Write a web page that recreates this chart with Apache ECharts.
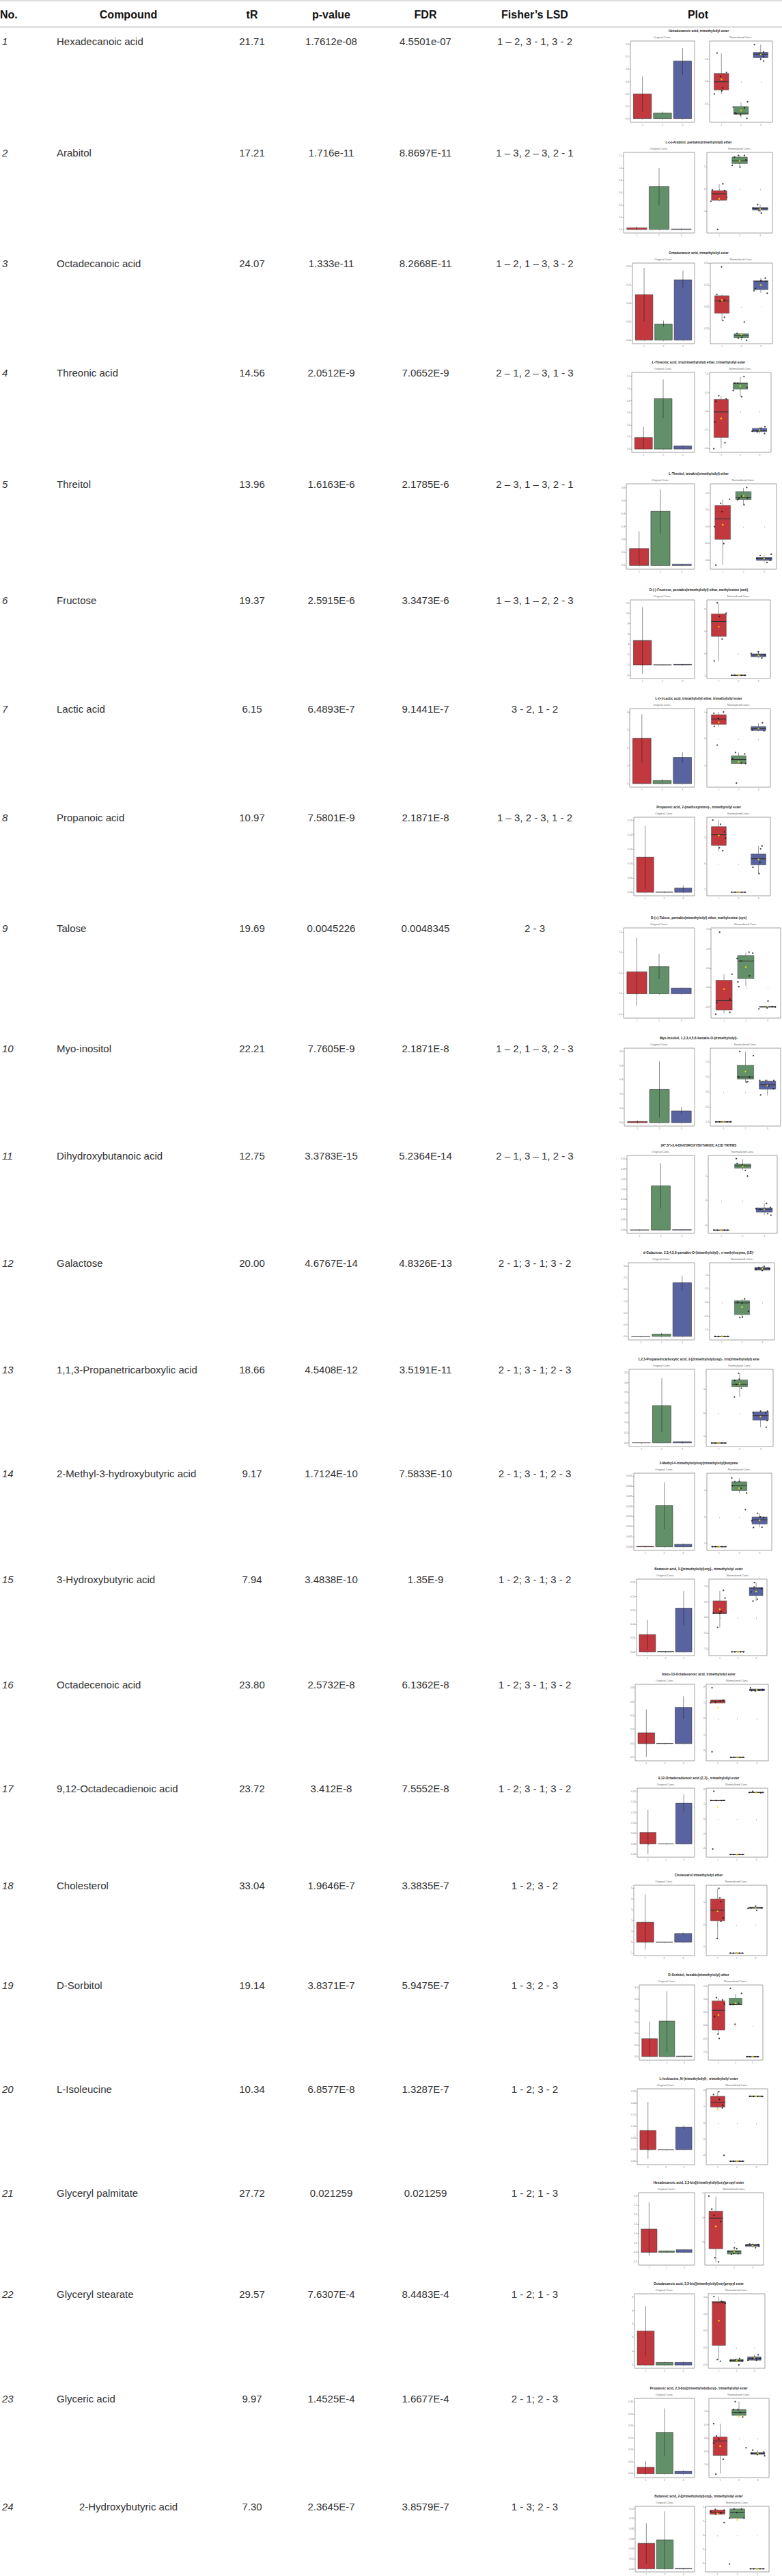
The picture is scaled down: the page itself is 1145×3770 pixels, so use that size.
<!DOCTYPE html>
<html>
<head>
<meta charset="utf-8">
<script src="https://cdn.jsdelivr.net/npm/echarts@6.0.0/dist/echarts.min.js"></script>
<style>
  html, body { margin: 0; padding: 0; background: #fff; }
  #chart { width: 1145px; height: 3770px; }
</style>
</head>
<body>
<div id="chart"></div>
<script>
// ---- table values ----
const compounds = ['Hexadecanoic acid', 'Arabitol', 'Octadecanoic acid', 'Threonic acid', 'Threitol', 'Fructose',
  'Lactic acid', 'Propanoic acid', 'Talose', 'Myo-inositol', 'Dihydroxybutanoic acid', 'Galactose',
  '1,1,3-Propanetricarboxylic acid', '2-Methyl-3-hydroxybutyric acid', '3-Hydroxybutyric acid', 'Octadecenoic acid',
  '9,12-Octadecadienoic acid', 'Cholesterol', 'D-Sorbitol', 'L-Isoleucine', 'Glyceryl palmitate', 'Glyceryl stearate',
  'Glyceric acid', '2-Hydroxybutyric acid'];
const retention = ['21.71', '17.21', '24.07', '14.56', '13.96', '19.37', '6.15', '10.97', '19.69', '22.21', '12.75', '20.00',
  '18.66', '9.17', '7.94', '23.80', '23.72', '33.04', '19.14', '10.34', '27.72', '29.57', '9.97', '7.30'];
const pValues = ['1.7612e-08', '1.716e-11', '1.333e-11', '2.0512E-9', '1.6163E-6', '2.5915E-6', '6.4893E-7', '7.5801E-9',
  '0.0045226', '7.7605E-9', '3.3783E-15', '4.6767E-14', '4.5408E-12', '1.7124E-10', '3.4838E-10', '2.5732E-8',
  '3.412E-8', '1.9646E-7', '3.8371E-7', '6.8577E-8', '0.021259', '7.6307E-4', '1.4525E-4', '2.3645E-7'];
const fdrValues = ['4.5501e-07', '8.8697E-11', '8.2668E-11', '7.0652E-9', '2.1785E-6', '3.3473E-6', '9.1441E-7', '2.1871E-8',
  '0.0048345', '2.1871E-8', '5.2364E-14', '4.8326E-13', '3.5191E-11', '7.5833E-10', '1.35E-9', '6.1362E-8',
  '7.5552E-8', '3.3835E-7', '5.9475E-7', '1.3287E-7', '0.021259', '8.4483E-4', '1.6677E-4', '3.8579E-7'];
const fisherLSD = ['1 \u2013 2, 3 - 1, 3 - 2', '1 \u2013 3, 2 \u2013 3, 2 - 1', '1 \u2013 2, 1 \u2013 3, 3 - 2',
  '2 \u2013 1, 2 \u2013 3, 1 - 3', '2 \u2013 3, 1 \u2013 3, 2 - 1', '1 \u2013 3, 1 \u2013 2, 2 - 3', '3 - 2, 1 - 2',
  '1 \u2013 3, 2 - 3, 1 - 2', '2 - 3', '1 \u2013 2, 1 \u2013 3, 2 - 3', '2 \u2013 1, 3 \u2013 1, 2 - 3',
  '2 - 1; 3 - 1; 3 - 2', '2 - 1; 3 - 1; 2 - 3', '2 - 1; 3 - 1; 2 - 3', '1 - 2; 3 - 1; 3 - 2', '1 - 2; 3 - 1; 3 - 2',
  '1 - 2; 3 - 1; 3 - 2', '1 - 2; 3 - 2', '1 - 3; 2 - 3', '1 - 2; 3 - 2', '1 - 2; 1 - 3', '1 - 2; 1 - 3',
  '2 - 1; 2 - 3', '1 - 3; 2 - 3'];
const plotTitles = ['Hexadecanoic acid, trimethylsilyl ester', 'L-(-)-Arabitol, pentakis(trimethylsilyl) ether',
  'Octadecanoic acid, trimethylsilyl ester', 'L-Threonic acid, tris(trimethylsilyl) ether, trimethylsilyl ester',
  'L-Threitol, tetrakis(trimethylsilyl) ether', 'D-(-)-Fructose, pentakis(trimethylsilyl) ether, methyloxime (anti)',
  'L-(+)-Lactic acid, trimethylsilyl ether, trimethylsilyl ester', 'Propanoic acid, 2-(methoxyimino)-, trimethylsilyl ester',
  'D-(+)-Talose, pentakis(trimethylsilyl) ether, methyloxime (syn)', 'Myo-Inositol, 1,2,3,4,5,6-hexakis-O-(trimethylsilyl)-',
  '(R*,S*)-3,4-DIHYDROXYBUTANOIC ACID TRITMS', 'd-Galactose, 2,3,4,5,6-pentakis-O-(trimethylsilyl)-, o-methyloxyme, (1E)-',
  '1,2,3-Propanetricarboxylic acid, 2-[(trimethylsilyl)oxy]-, tris(trimethylsilyl) este',
  '2-Methyl-4-trimethylsilyloxy(trimethylsilyl)butyrate', 'Butanoic acid, 3-[(trimethylsilyl)oxy]-, trimethylsilyl ester',
  'trans-13-Octadecenoic acid, trimethylsilyl ester', '9,12-Octadecadienoic acid (Z,Z)-, trimethylsilyl ester',
  'Cholesterol trimethylsilyl ether', 'D-Sorbitol, hexakis(trimethylsilyl) ether',
  'L-Isoleucine, N-(trimethylsilyl)-, trimethylsilyl ester', 'Hexadecanoic acid, 2,3-bis[(trimethylsilyl)oxy]propyl ester',
  'Octadecanoic acid, 2,3-bis[(trimethylsilyl)oxy]propyl ester',
  'Propanoic acid, 2,3-bis[(trimethylsilyl)oxy]-, trimethylsilyl ester',
  'Butanoic acid, 2-[(trimethylsilyl)oxy]-, trimethylsilyl ester'];

// ---- plot values: groups 1, 2, 3 ----
const groups = ['1', '2', '3'];
const groupColors = ['#C1383E', '#629068', '#5963A0'];

// Original Conc. (bar = mean, error bar low / high)
const barMeans = [[0.20, 0.046, 0.468], [0.027, 0.70, 0.008], [0.124, 0.044, 0.164], [0.19, 0.834, 0.05],
  [0.13, 0.417, 0.009], [4.73, 0.02, 0.09], [2.54, 0.17, 1.46], [0.1225, 0.0016, 0.0147], [0.535, 0.66, 0.137],
  [0.008, 0.233, 0.082], [0.001, 0.217, 0.002], [0.01, 0.10, 2.30], [0.01, 1.86, 0.06], [0.0002, 0.0204, 0.0012],
  [0.063, 0.003, 0.158], [0.155, 0.003, 0.52], [0.055, 0.0005, 0.194], [1.84, 0.0, 0.79], [0.78, 1.55, 0.02],
  [0.083, 0.0, 0.097], [1.24, 0.075, 0.137], [2.5, 0.19, 0.19], [0.027, 0.173, 0.011], [0.051, 0.058, 0.001]];
const barLow = [[0.056, 0.036, 0.354], [0.005, 0.394, 0.002], [0.051, 0.037, 0.141], [0.023, 0.51, 0.04],
  [0.007, 0.248, 0.005], [-1.73, 0.0, 0.05], [1.19, 0.09, 1.15], [0.012, 0.0, 0.004], [-0.296, 0.353, 0.13],
  [0.0, 0.036, 0.062], [0.0, 0.106, 0.001], [0.0, 0.05, 1.97], [0.0, 0.53, 0.04], [0.0, 0.0087, 0.0008],
  [0.008, 0.002, 0.095], [-0.19, 0.0, 0.35], [-0.047, 0.0, 0.15], [-0.70, 0.0, 0.68], [0.04, 0.22, 0.01],
  [-0.04, 0.0, 0.087], [-0.19, 0.05, 0.11], [0.71, 0.15, 0.15], [0.0, 0.076, 0.008], [0.0105, 0.0, 0.0005]];
const barHigh = [[0.343, 0.056, 0.574], [0.05, 1.0, 0.014], [0.197, 0.053, 0.19], [0.366, 1.153, 0.06],
  [0.263, 0.585, 0.013], [11.2, 0.04, 0.13], [3.88, 0.25, 1.76], [0.231, 0.003, 0.0245], [1.367, 0.97, 0.145],
  [0.016, 0.43, 0.11], [0.002, 0.328, 0.003], [0.02, 0.15, 2.6], [0.02, 3.22, 0.08], [0.0004, 0.032, 0.0016],
  [0.116, 0.004, 0.22], [0.49, 0.006, 0.68], [0.162, 0.001, 0.236], [4.43, 0.0, 0.88], [1.53, 2.85, 0.03],
  [0.206, 0.0, 0.105], [2.66, 0.10, 0.16], [4.32, 0.23, 0.23], [0.053, 0.273, 0.014], [0.091, 0.115, 0.0015]];
const barTicks = [
  ['0.0', '0.1', '0.2', '0.3', '0.4', '0.5', '0.6'], ['0.0', '0.2', '0.4', '0.6', '0.8', '1.0', '1.2'],
  ['0.00', '0.05', '0.10', '0.15', '0.20'], ['0.0', '0.2', '0.4', '0.6', '0.8', '1.0', '1.2'],
  ['0.0', '0.1', '0.2', '0.3', '0.4', '0.5', '0.6'], ['-2', '0', '2', '4', '6', '8', '10', '12'],
  ['0', '1', '2', '3', '4'], ['0.00', '0.05', '0.10', '0.15', '0.20', '0.25'],
  ['-0.5', '0.0', '0.5', '1.0', '1.5'], ['0.0', '0.1', '0.2', '0.3', '0.4', '0.5'],
  ['0.00', '0.05', '0.10', '0.15', '0.20', '0.25', '0.30', '0.35'], ['0.0', '0.5', '1.0', '1.5', '2.0', '2.5', '3.0'],
  ['0.0', '0.5', '1.0', '1.5', '2.0', '2.5', '3.0', '3.5'],
  ['0.000', '0.005', '0.010', '0.015', '0.020', '0.025', '0.030', '0.035'],
  ['0.00', '0.05', '0.10', '0.15', '0.20', '0.25'], ['-0.2', '0.0', '0.2', '0.4', '0.6', '0.8'],
  ['-0.05', '0.00', '0.05', '0.10', '0.15', '0.20', '0.25'], ['-1', '0', '1', '2', '3', '4', '5'],
  ['0.0', '0.5', '1.0', '1.5', '2.0', '2.5', '3.0'], ['-0.05', '0.00', '0.05', '0.10', '0.15', '0.20', '0.25'],
  ['-0.5', '0.0', '0.5', '1.0', '1.5', '2.0', '2.5', '3.0'], ['0', '1', '2', '3', '4', '5'],
  ['0.00', '0.05', '0.10', '0.15', '0.20', '0.25', '0.30'], ['0.00', '0.02', '0.04', '0.06', '0.08', '0.10', '0.12']];
const barLimits = [[-0.03, 0.63], [-0.057, 1.254], [-0.0096, 0.21], [-0.055, 1.27], [-0.029, 0.629], [-2.64, 12.6],
  [-0.2, 4.2], [-0.012, 0.261], [-0.59, 1.60], [-0.024, 0.523], [-0.016, 0.366], [-0.15, 3.15], [-0.18, 3.67],
  [-0.0018, 0.0365], [-0.013, 0.263], [-0.247, 0.85], [-0.063, 0.266], [-1.25, 5.28], [-0.155, 3.13],
  [-0.065, 0.263], [-0.68, 3.17], [-0.24, 5.23], [-0.016, 0.315], [-0.006, 0.125]];

// Normalized Conc. (box = low whisker, q1, median, q3, high whisker)
const boxStats = [
  [[-0.223, -0.152, -0.004, 0.143, 0.505], [-0.644, -0.585, -0.564, -0.446, -0.37], [0.375, 0.425, 0.488, 0.522, 0.66]],
  [[-0.55, -0.505, -0.22, -0.074, 0.23], [0.98, 1.14, 1.26, 1.43, 1.5], [-1.07, -0.94, -0.88, -0.83, -0.7]],
  [[-0.154, -0.073, 0.068, 0.127, 0.143], [-0.384, -0.357, -0.33, -0.31, -0.30], [0.157, 0.198, 0.289, 0.30, 0.33]],
  [[-1.0, -0.709, -0.019, 0.316, 0.40], [0.39, 0.595, 0.75, 0.76, 0.93], [-0.6, -0.55, -0.525, -0.462, -0.424]],
  [[-1.14, -0.38, 0.232, 0.634, 0.81], [0.66, 0.803, 0.866, 1.042, 1.16], [-1.056, -1.007, -0.95, -0.915, -0.845]],
  [[-0.33, 0.78, 1.45, 1.79, 2.26], [-0.975, -0.975, -0.975, -0.975, -0.975], [-0.2, -0.14, -0.06, -0.01, 0.1]],
  [[0.46, 0.54, 0.74, 0.9, 1.0], [-0.92, -0.92, -0.77, -0.63, -0.51], [0.28, 0.31, 0.38, 0.46, 0.59]],
  [[0.5, 0.70, 1.11, 1.42, 1.67], [-1.09, -1.09, -1.09, -1.09, -1.09], [-0.38, -0.045, 0.19, 0.37, 0.68]],
  [[-0.67, -0.58, -0.34, 0.188, 0.34], [0.036, 0.23, 0.685, 0.824, 0.9], [-0.53, -0.51, -0.495, -0.49, -0.48]],
  [[-1.0, -1.0, -1.0, -1.0, -1.0], [0.31, 0.43, 0.5, 0.886, 1.34], [-0.12, 0.09, 0.235, 0.36, 0.41]],
  [[-1.2, -1.2, -1.2, -1.2, -1.2], [1.23, 1.32, 1.42, 1.49, 1.69], [-0.58, -0.47, -0.35, -0.30, -0.11]],
  [[-1.23, -1.23, -1.23, -1.23, -1.23], [-0.55, -0.44, -0.017, 0.06, 0.127], [1.14, 1.17, 1.22, 1.27, 1.31]],
  [[-1.27, -1.27, -1.27, -1.27, -1.27], [0.68, 1.11, 1.21, 1.40, 1.68], [-0.60, -0.30, -0.11, 0.05, 0.08]],
  [[-1.13, -1.13, -1.13, -1.13, -1.13], [0.91, 1.0, 1.18, 1.33, 1.47], [-0.4, -0.27, -0.11, 0.0, 0.14]],
  [[-0.31, 0.135, 0.14, 0.534, 0.86], [-1.09, -1.09, -1.09, -1.09, -1.09], [0.534, 0.70, 0.925, 0.96, 1.12]],
  [[0.985, 0.985, 1.095, 1.17, 1.17], [-2.41, -2.41, -2.41, -2.41, -2.41], [1.73, 1.74, 1.8, 1.85, 1.85]],
  [[1.2, 1.22, 1.24, 1.26, 1.28], [-2.4, -2.4, -2.4, -2.4, -2.4], [1.76, 1.77, 1.78, 1.79, 1.8]],
  [[-0.63, 0.18, 0.66, 1.16, 1.62], [-1.28, -1.28, -1.28, -1.28, -1.28], [0.70, 0.734, 0.755, 0.787, 0.84]],
  [[-0.32, -0.17, 0.577, 0.937, 1.045], [0.8, 0.8, 0.8, 1.036, 1.2], [-1.18, -1.18, -1.18, -1.18, -1.18]],
  [[0.9, 0.97, 1.26, 1.64, 1.92], [-2.36, -2.36, -2.36, -2.36, -2.36], [1.64, 1.64, 1.64, 1.64, 1.64]],
  [[-0.83, -0.27, 0.98, 1.26, 1.86], [-0.49, -0.49, -0.39, -0.35, -0.23], [-0.23, -0.17, -0.125, -0.087, -0.06]],
  [[-0.37, 0.07, 1.34, 1.37, 1.52], [-0.415, -0.415, -0.38, -0.345, -0.32], [-0.37, -0.37, -0.32, -0.27, -0.21]],
  [[-1.32, -0.65, -0.106, 0.044, 0.54], [0.79, 0.85, 0.96, 1.07, 1.37], [-0.66, -0.61, -0.57, -0.54, -0.45]],
  [[1.51, 1.51, 1.66, 1.81, 1.86], [1.23, 1.23, 1.63, 1.89, 1.89], [-2.41, -2.41, -2.41, -2.41, -2.41]]];
const boxMeans = [[0.038, -0.518, 0.484], [-0.44, 1.26, -0.89], [0.076, -0.316, 0.25], [-0.196, 0.68, -0.513],
  [0.056, 0.915, -0.95], [1.21, -0.975, -0.085], [0.615, -0.86, 0.39], [1.08, -1.09, 0.16], [-0.04, 0.527, -0.49],
  [-1.0, 0.68, 0.21], [-1.2, 1.40, -0.36], [-1.23, -0.17, 1.22], [-1.27, 1.23, -0.15], [-1.13, 1.085, -0.13],
  [0.27, -1.09, 0.835], [0.7, -2.41, 1.8], [0.81, -2.4, 1.78], [0.61, -1.28, 0.755], [0.4, 0.85, -1.18],
  [0.83, -2.36, 1.64], [0.64, -0.39, -0.135], [0.8, -0.38, -0.3], [-0.3, 0.82, -0.57], [1.56, 1.11, -2.41]];
const boxTicks = [['-0.4', '0.0', '0.4'], ['-1', '0', '1'], ['-0.25', '0.00', '0.25', '0.50'],
  ['-1.0', '-0.5', '0.0', '0.5', '1.0'], ['-1.0', '-0.5', '0.0', '0.5', '1.0'], ['-1', '0', '1', '2'], ['-1', '0', '1'],
  ['-1', '0', '1'], ['-0.5', '0.0', '0.5', '1.0', '1.5'], ['-1.0', '-0.5', '0.0', '0.5', '1.0'], ['-1', '0', '1'],
  ['-1.0', '-0.5', '0.0', '0.5', '1.0'], ['-1', '0', '1'], ['-1', '0', '1'], ['-1.0', '-0.5', '0.0', '0.5', '1.0'],
  ['-2', '-1', '0', '1', '2'], ['-2', '-1', '0', '1', '2'], ['-1', '0', '1'], ['-1.0', '-0.5', '0.0', '0.5', '1.0', '1.5'],
  ['-2', '-1', '0', '1', '2'], ['0', '1', '2'], ['-0.5', '0.0', '0.5', '1.0', '1.5'],
  ['-1.0', '-0.5', '0.0', '0.5', '1.0'], ['-2', '-1', '0', '1', '2']];
const boxLimits = [[-0.728, 0.724], [-1.97, 1.64], [-0.424, 0.503], [-1.107, 1.044], [-1.27, 1.28], [-1.12, 2.42],
  [-1.8, 1.13], [-1.23, 1.78], [-0.79, 1.54], [-1.14, 1.46], [-1.33, 1.84], [-1.36, 1.44], [-1.42, 1.85], [-1.27, 1.66],
  [-1.21, 1.23], [-2.63, 2.15], [-2.58, 2.07], [-1.39, 1.78], [-1.31, 1.54], [-2.57, 2.1], [-0.94, 2.02], [-0.61, 1.6],
  [-1.48, 1.49], [-2.63, 2.08]];
// individual samples: [jitter, value] per group
const boxPoints = [
  [[[-0.36, -0.223], [-0.22, 0.51], [-0.04, 0.093], [0.26, 0.164], [0.06, -0.114], [0.02, -0.164]],
   [[-0.4, -0.455], [-0.3, -0.56], [-0.25, -0.573], [-0.03, -0.594], [0.33, -0.362], [0.3, -0.657], [0.18, -0.47]],
   [[-0.32, 0.66], [0.15, 0.53], [0.14, 0.45], [0.0, 0.40], [0.15, 0.366], [-0.03, 0.5]]],
  [[[-0.4, -0.55], [-0.33, -0.04], [-0.07, -1.81], [0.18, 0.23], [0.26, -0.07], [0.37, -0.37]],
   [[-0.36, 1.06], [-0.25, 1.43], [-0.06, 1.5], [0.02, 0.98], [0.23, 1.5], [0.31, 1.3]],
   [[-0.35, -0.85], [-0.12, -0.7], [0.06, -1.08], [-0.06, -0.97], [-0.21, -0.87]]],
  [[[-0.26, 0.143], [-0.1, 0.065], [-0.02, 0.46], [0.13, 0.076], [0.05, -0.157], [0.13, -0.12]],
   [[-0.22, -0.305], [0.03, -0.35], [0.15, -0.175], [0.27, -0.386], [-0.16, -0.36]],
   [[-0.35, 0.184], [-0.28, 0.21], [0.01, 0.3], [0.23, 0.33], [0.33, 0.157], [0.27, 0.292]]],
  [[[-0.38, -1.01], [-0.33, -0.29], [-0.27, 0.266], [-0.12, 0.418], [0.2, -0.85], [0.26, 0.33]],
   [[-0.37, 0.557], [-0.28, 0.76], [-0.14, 0.76], [0.07, 0.39], [0.19, 0.93], [0.35, 0.633]],
   [[-0.39, -0.538], [-0.12, -0.557], [0.08, -0.456], [0.28, -0.418], [0.26, -0.6]]],
  [[[-0.4, 0.0], [-0.33, -1.15], [-0.1, 0.697], [-0.03, 0.45], [0.05, -0.507], [0.33, 0.817]],
   [[-0.27, 0.8], [-0.08, 0.915], [0.03, 0.655], [0.16, 1.17], [0.2, 0.852], [-0.22, 0.845]],
   [[-0.35, -0.95], [-0.19, -0.86], [0.14, -1.07], [0.34, -0.82], [0.3, -1.0]]],
  [[[-0.23, -0.33], [-0.08, 2.29], [0.03, 1.68], [0.17, 0.66], [0.37, 1.82]],
   [[-0.36, -0.975], [-0.19, -0.975], [-0.02, -0.975], [0.15, -0.975], [0.32, -0.975]],
   [[-0.37, 0.01], [-0.01, 0.085], [0.17, -0.2], [0.33, -0.06]]],
  [[[-0.25, 0.96], [-0.02, 0.76], [0.24, 1.0], [-0.23, 0.47], [-0.08, -0.23]],
   [[-0.3, -0.73], [-0.16, -0.51], [0.14, -0.9], [0.31, -0.56], [0.35, -0.92], [-0.11, -1.65]],
   [[-0.31, 0.33], [0.2, 0.6], [0.28, 0.3], [0.0, 0.4]]],
  [[[-0.3, 1.67], [0.09, 1.51], [0.29, 1.22], [0.34, 0.98], [0.03, 0.61], [0.2, 0.5]],
   [[-0.36, -1.09], [-0.18, -1.09], [0.0, -1.09], [0.16, -1.09], [0.32, -1.09]],
   [[-0.28, -0.135], [0.03, -0.38], [0.07, 0.05], [0.11, 0.57], [0.18, 0.68]]],
  [[[-0.38, -0.69], [-0.33, -0.39], [-0.2, 1.43], [0.27, -0.3], [0.27, -0.64], [0.37, 0.345]],
   [[-0.4, 0.75], [-0.36, 0.145], [-0.32, 0.024], [-0.22, 0.685], [0.15, 0.915], [0.32, 0.89], [0.17, 0.3]],
   [[-0.4, -0.55], [-0.02, -0.53], [0.02, -0.35], [0.21, -0.49], [0.36, -0.5]]],
  [[[-0.35, -1.0], [-0.18, -1.0], [0.0, -1.0], [0.17, -1.0], [0.33, -1.0]],
   [[-0.26, 1.35], [-0.31, 0.5], [0.05, 0.33], [0.19, 0.49], [0.36, 1.21], [0.1, 0.34]],
   [[-0.31, -0.1], [-0.35, 0.38], [-0.07, 0.38], [0.29, 0.38], [0.27, 0.11], [0.06, 0.19]]],
  [[[-0.33, -1.2], [-0.17, -1.2], [0.0, -1.2], [0.15, -1.2], [0.3, -1.2]],
   [[-0.3, 1.71], [-0.26, 1.51], [-0.02, 1.46], [0.12, 1.23], [0.22, 1.0]],
   [[-0.38, -0.32], [-0.19, -0.35], [0.1, -0.11], [0.16, -0.53], [0.31, -0.59], [0.28, -0.27]]],
  [[[-0.33, -1.23], [-0.17, -1.23], [0.0, -1.23], [0.15, -1.23], [0.3, -1.23]],
   [[-0.22, 0.017], [-0.11, -0.55], [0.02, -0.53], [0.13, 0.127], [0.31, -0.32], [0.0, -0.017]],
   [[-0.31, 1.19], [-0.17, 1.27], [0.0, 1.16], [0.09, 1.31], [0.34, 1.22]]],
  [[[-0.33, -1.27], [-0.17, -1.27], [0.0, -1.27], [0.15, -1.27], [0.3, -1.27]],
   [[-0.25, 0.68], [-0.24, 1.38], [-0.05, 1.68], [-0.02, 1.43], [0.08, 1.05], [-0.16, 1.21]],
   [[-0.35, 0.01], [0.0, 0.08], [0.24, 0.02], [0.33, 0.08], [0.31, -0.32], [0.27, -0.6]]],
  [[[-0.33, -1.13], [-0.17, -1.13], [0.0, -1.13], [0.15, -1.13], [0.3, -1.13]],
   [[-0.37, 1.48], [-0.34, 1.18], [-0.22, 1.34], [-0.01, 1.34], [0.08, 1.09], [0.36, 0.91], [0.3, 0.28]],
   [[-0.38, -0.15], [-0.3, -0.4], [-0.1, 0.14], [0.03, 0.0], [0.12, -0.39], [0.2, -0.02]]],
  [[[-0.36, 0.145], [-0.12, -0.31], [0.07, 0.2], [0.2, 0.87], [0.29, 0.63], [0.0, 0.14]],
   [[-0.33, -1.09], [-0.17, -1.09], [0.0, -1.09], [0.15, -1.09], [0.3, -1.09]],
   [[-0.27, 0.82], [-0.17, 0.53], [-0.11, 0.98], [-0.09, 1.12], [0.07, 0.59], [0.29, 0.925]]],
  [[[-0.3, 1.94], [-0.3, -2.06], [-0.38, 1.0], [-0.12, 1.03], [0.12, 1.1], [0.27, 1.16]],
   [[-0.33, -2.41], [-0.17, -2.41], [0.0, -2.41], [0.15, -2.41], [0.3, -2.41]],
   [[-0.32, 1.93], [-0.26, 1.75], [-0.08, 1.73], [0.12, 1.78], [0.31, 1.82], [0.39, 1.8]]],
  [[[-0.2, 1.86], [-0.26, -2.03], [-0.36, 1.24], [-0.08, 1.24], [0.21, 1.24], [0.33, 1.25]],
   [[-0.33, -2.4], [-0.17, -2.4], [0.0, -2.4], [0.15, -2.4], [0.3, -2.4]],
   [[-0.36, 1.78], [-0.18, 1.86], [0.02, 1.79], [0.24, 1.76], [0.36, 1.78]]],
  [[[0.07, 1.64], [0.12, 1.21], [0.17, 1.04], [0.3, 0.3], [0.18, 0.15], [-0.02, -0.62]],
   [[-0.33, -1.28], [-0.17, -1.28], [0.0, -1.28], [0.15, -1.28], [0.3, -1.28]],
   [[-0.4, 0.73], [-0.24, 0.75], [0.0, 0.84], [0.06, 0.65], [0.3, 0.755]]],
  [[[-0.23, 0.34], [-0.12, 1.06], [-0.03, -0.32], [0.04, -0.49], [0.24, 0.97], [0.35, 0.82]],
   [[-0.3, 1.41], [-0.03, 0.05], [0.18, 0.85], [0.35, 1.22], [-0.3, 0.8], [-0.14, 0.8]],
   [[-0.33, -1.18], [-0.17, -1.18], [0.0, -1.18], [0.15, -1.18], [0.3, -1.18]]],
  [[[-0.22, 1.75], [0.06, 1.92], [0.08, 1.45], [0.27, 1.09], [0.24, 0.92], [0.33, -1.99]],
   [[-0.33, -2.36], [-0.17, -2.36], [0.0, -2.36], [0.15, -2.36], [0.3, -2.36]],
   [[-0.33, 1.64], [-0.14, 1.64], [0.07, 1.64], [0.31, 1.63]]],
  [[[-0.38, 1.88], [-0.22, 1.35], [-0.1, 1.1], [0.27, 0.84], [-0.05, -0.64], [0.15, -0.81]],
   [[-0.33, -0.39], [-0.15, -0.49], [0.01, -0.23], [0.14, -0.27], [0.22, -0.47], [-0.02, -0.46]],
   [[-0.36, -0.135], [-0.15, -0.08], [0.01, -0.1], [0.16, -0.23], [0.35, -0.17], [0.31, -0.1]]],
  [[[-0.28, 1.52], [0.14, 1.38], [0.23, 1.36], [0.36, 1.32], [-0.09, -0.35], [0.08, -0.4]],
   [[-0.35, -0.38], [-0.06, -0.36], [0.13, -0.51], [0.17, -0.32], [0.32, -0.38]],
   [[-0.36, -0.37], [-0.1, -0.32], [0.03, -0.28], [0.22, -0.21], [0.35, -0.32], [0.12, -0.37]]],
  [[[-0.35, 0.54], [-0.35, -0.19], [-0.2, 0.08], [-0.07, -0.035], [0.16, -0.79], [-0.23, -1.35]],
   [[-0.2, 1.37], [-0.3, 1.07], [-0.05, 1.07], [0.06, 0.96], [0.2, 0.79], [0.38, -0.36]],
   [[-0.33, -0.57], [-0.27, -0.45], [-0.02, -0.61], [0.32, -0.52], [0.37, -0.66]]],
  [[[-0.34, 1.7], [-0.11, 1.86], [-0.08, 1.51], [0.17, 1.6], [0.34, 1.81], [0.34, 0.91]],
   [[-0.39, 1.23], [-0.16, 1.89], [-0.02, 1.63], [0.21, 1.89], [0.34, 1.23], [-0.39, -2.06]],
   [[-0.33, -2.41], [-0.17, -2.41], [0.0, -2.41], [0.15, -2.41], [0.3, -2.41]]]];

// ---- layout (pixels) ----
const panelTop = [60, 223, 385, 545, 708, 878, 1037, 1196, 1358, 1534, 1691, 1848, 2004, 2156, 2311, 2465,
  2617, 2759, 2905, 3057, 3209, 3357, 3510, 3668];
const panelBottom = [179, 341, 503, 662, 833, 993, 1152, 1311, 1490, 1648, 1805, 1961, 2117, 2269, 2423, 2577,
  2718, 2862, 3015, 3168, 3315, 3466, 3626, 3782];
const panelX = [[923, 1039, 1131], [913, 1035, 1131], [926, 1040, 1131], [925, 1039, 1129], [917, 1040, 1137],
  [923, 1035, 1128], [922, 1035, 1128], [928, 1035, 1128], [913, 1041, 1143], [914, 1040, 1143], [918, 1037, 1138],
  [920, 1039, 1134], [921, 1034, 1132], [928, 1035, 1130], [932, 1038, 1123], [930, 1034, 1125], [933, 1034, 1124],
  [928, 1034, 1123], [936, 1037, 1117], [933, 1034, 1124], [935, 1032, 1118], [929, 1037, 1120], [929, 1038, 1126],
  [930, 1033, 1126]];
const LEFT_PANEL_RIGHT = 1017;
const FONT = '"Liberation Sans", Arial, Helvetica, sans-serif';

const graphics = [];
function addText(text, x, y, align, extra) {
  graphics.push({
    type: 'text', x: x, y: y, silent: true,
    style: Object.assign({ text: text, fontFamily: FONT, fontSize: 15, fill: '#333', align: align, verticalAlign: 'middle' }, extra || {})
  });
}
graphics.push({ type: 'line', shape: { x1: 0, y1: 1, x2: 1145, y2: 1 }, style: { stroke: '#dcdcdc', lineWidth: 2 } });
graphics.push({ type: 'line', shape: { x1: 0, y1: 39.5, x2: 1145, y2: 39.5 }, style: { stroke: '#d2d2d2', lineWidth: 2 } });
[['No.', 0, 'left'], ['Compound', 188, 'center'], ['tR', 369, 'center'], ['p-value', 485, 'center'],
 ['FDR', 623, 'center'], ['Fisher\u2019s LSD', 783, 'center'], ['Plot', 1022, 'center']].forEach(function (h) {
  addText(h[0], h[1], 21, h[2], { fontSize: 16, fontWeight: 'bold', fill: '#111' });
});

compounds.forEach(function (name, i) {
  const y = panelTop[i];
  addText(String(i + 1), 3, y, 'left', { fontStyle: 'italic' });
  if (i === 23) addText(name, 188, y, 'center'); else addText(name, 83, y, 'left');
  addText(retention[i], 369, y, 'center');
  addText(pValues[i], 485, y, 'center');
  addText(fdrValues[i], 623, y, 'center');
  addText(fisherLSD[i], 783, y, 'center');
  addText(plotTitles[i], 1023, y - 14.5, 'center', { fontSize: 4.8, fontWeight: 'bold', fill: '#222' });
  addText('Original Conc.', (panelX[i][0] + LEFT_PANEL_RIGHT) / 2, y - 5.3, 'center', { fontSize: 4.2, fill: '#666' });
  addText('Normalized Conc.', (panelX[i][1] + panelX[i][2]) / 2, y - 5.3, 'center', { fontSize: 4.2, fill: '#666' });
});

function tickAxis(gridIndex, labels, limits) {
  const vals = labels.map(Number);
  return {
    type: 'value', gridIndex: gridIndex, min: limits[0], max: limits[1],
    splitLine: { show: false }, axisLine: { show: false },
    axisTick: { show: true, customValues: vals, length: 1.5, lineStyle: { color: '#666', width: 0.5 } },
    axisLabel: {
      customValues: vals, fontSize: 3.6, color: '#777', margin: 2, fontFamily: FONT,
      formatter: function (v) {
        const k = vals.findIndex(function (t) { return Math.abs(t - v) < 1e-9; });
        return k >= 0 ? labels[k] : '';
      }
    }
  };
}
function groupAxis(gridIndex) {
  return {
    type: 'value', gridIndex: gridIndex, min: 0.4, max: 3.6,
    splitLine: { show: false }, axisLine: { show: false },
    axisTick: { show: true, customValues: [1, 2, 3], length: 1.5, lineStyle: { color: '#666', width: 0.5 } },
    axisLabel: { customValues: [1, 2, 3], fontSize: 3.6, color: '#888', margin: 2, fontFamily: FONT,
      formatter: function (v) { return groups[Math.round(v) - 1]; } }
  };
}

function renderBar(params, api) {
  const x = api.value(0), v = api.value(1), lo = api.value(2), hi = api.value(3);
  const a = api.coord([x - 0.45, v]), b = api.coord([x + 0.45, 0]);
  const e1 = api.coord([x, lo]), e2 = api.coord([x, hi]);
  return {
    type: 'group', children: [
      { type: 'rect', shape: { x: a[0], y: Math.min(a[1], b[1]), width: b[0] - a[0], height: Math.abs(b[1] - a[1]) },
        style: { fill: groupColors[params.dataIndex], stroke: '#333', lineWidth: 0.6 } },
      { type: 'line', shape: { x1: e1[0], y1: e1[1], x2: e2[0], y2: e2[1] },
        style: { stroke: 'rgba(30,30,30,0.5)', lineWidth: 1 } }
    ]
  };
}
function renderBox(params, api) {
  const x = api.value(0);
  const lw = api.coord([x, api.value(1)]), hw = api.coord([x, api.value(5)]);
  const q1 = api.coord([x - 0.375, api.value(2)]), q3 = api.coord([x + 0.375, api.value(4)]);
  const med = api.value(3);
  const m1 = api.coord([x - 0.375, med]), m2 = api.coord([x + 0.375, med]);
  return {
    type: 'group', children: [
      { type: 'line', shape: { x1: lw[0], y1: lw[1], x2: hw[0], y2: hw[1] }, style: { stroke: '#555', lineWidth: 0.6 } },
      { type: 'rect', shape: { x: q1[0], y: Math.min(q1[1], q3[1]), width: q3[0] - q1[0], height: Math.abs(q3[1] - q1[1]) },
        style: { fill: groupColors[params.dataIndex], stroke: '#555', lineWidth: 0.6 } },
      { type: 'line', shape: { x1: m1[0], y1: m1[1], x2: m2[0], y2: m2[1] }, style: { stroke: '#333', lineWidth: 1.1 } }
    ]
  };
}

const grids = [], xAxes = [], yAxes = [], series = [];
compounds.forEach(function (name, i) {
  const top = panelTop[i], h = panelBottom[i] - panelTop[i];
  const gBar = 2 * i, gBox = 2 * i + 1;
  const gridStyle = { show: true, borderColor: '#a0a0a0', borderWidth: 1, backgroundColor: '#fff' };
  grids.push(Object.assign({ left: panelX[i][0], width: LEFT_PANEL_RIGHT - panelX[i][0], top: top, height: h }, gridStyle));
  grids.push(Object.assign({ left: panelX[i][1], width: panelX[i][2] - panelX[i][1], top: top, height: h }, gridStyle));
  xAxes.push(groupAxis(gBar), groupAxis(gBox));
  yAxes.push(tickAxis(gBar, barTicks[i], barLimits[i]), tickAxis(gBox, boxTicks[i], boxLimits[i]));

  series.push({
    type: 'custom', xAxisIndex: gBar, yAxisIndex: gBar, renderItem: renderBar, silent: true,
    encode: { x: 0, y: [1, 2, 3] },
    data: groups.map(function (g, k) { return [k + 1, barMeans[i][k], barLow[i][k], barHigh[i][k]]; })
  });
  series.push({
    type: 'custom', xAxisIndex: gBox, yAxisIndex: gBox, renderItem: renderBox, silent: true,
    encode: { x: 0, y: [1, 2, 3, 4, 5] },
    data: groups.map(function (g, k) { return [k + 1].concat(boxStats[i][k]); })
  });
  const pts = [];
  boxPoints[i].forEach(function (list, k) {
    list.forEach(function (p) { pts.push([k + 1 + p[0], p[1]]); });
  });
  series.push({
    type: 'scatter', xAxisIndex: gBox, yAxisIndex: gBox, silent: true, symbolSize: 2.3,
    itemStyle: { color: '#111' }, data: pts
  });
  series.push({
    type: 'scatter', xAxisIndex: gBox, yAxisIndex: gBox, silent: true, symbolSize: 2.6,
    itemStyle: { color: '#FFE200' },
    data: groups.map(function (g, k) { return [k + 1, boxMeans[i][k]]; })
  });
});

const chart = echarts.init(document.getElementById('chart'), null, { renderer: 'svg' });
chart.setOption({
  animation: false,
  backgroundColor: '#fff',
  grid: grids,
  xAxis: xAxes,
  yAxis: yAxes,
  series: series,
  graphic: graphics
});
</script>
</body>
</html>
